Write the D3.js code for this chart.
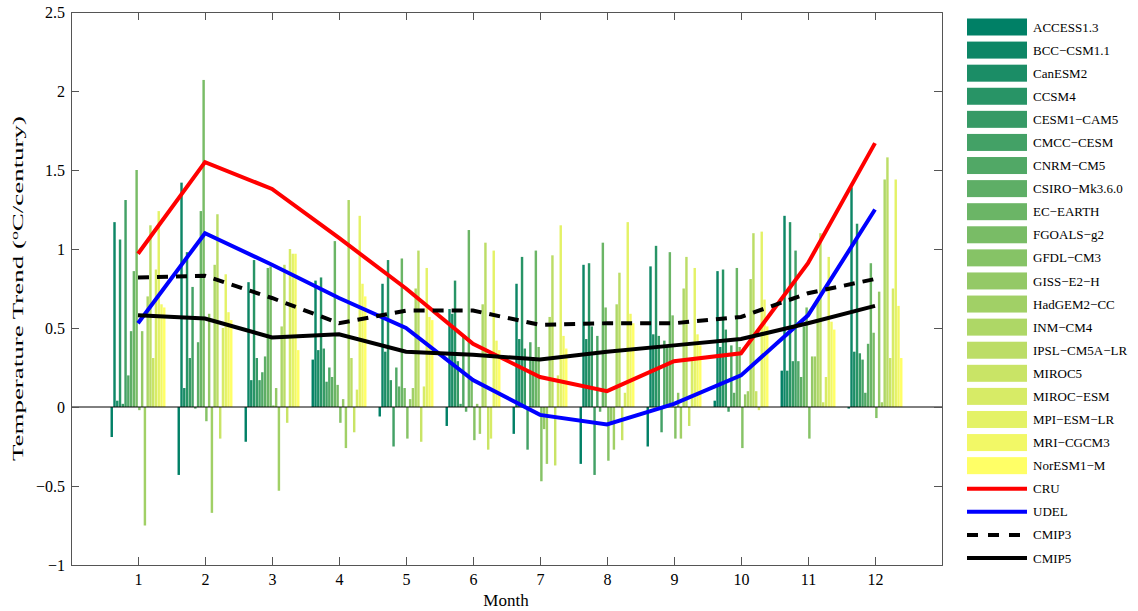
<!DOCTYPE html>
<html>
<head>
<meta charset="utf-8">
<script src="https://cdn.jsdelivr.net/npm/d3@7"></script>
<style>
  body { margin: 0; background: #fff; }
  svg text { font-family: "Liberation Serif", "DejaVu Serif", serif; fill: #000; }
</style>
</head>
<body>
<svg id="chart" width="1138" height="611"></svg>
<script>
// month numbers
const months = [1, 2, 3, 4, 5, 6, 7, 8, 9, 10, 11, 12];

// CMIP5 models (legend order)
const models = ['ACCESS1.3', 'BCC\u2212CSM1.1', 'CanESM2', 'CCSM4', 'CESM1\u2212CAM5', 'CMCC\u2212CESM',
  'CNRM\u2212CM5', 'CSIRO\u2212Mk3.6.0', 'EC\u2212EARTH', 'FGOALS\u2212g2', 'GFDL\u2212CM3', 'GISS\u2212E2\u2212H',
  'HadGEM2\u2212CC', 'INM\u2212CM4', 'IPSL\u2212CM5A\u2212LR', 'MIROC5', 'MIROC\u2212ESM', 'MPI\u2212ESM\u2212LR',
  'MRI\u2212CGCM3', 'NorESM1\u2212M'];

// trend per month, one row per month, 20 values in model order
const m01 = [-0.19, 1.17, 0.04, 1.06, 0.02, 1.31, 0.20, 0.48, 0.86, 1.50, -0.02, 0.48, -0.75, 0.70, 1.15, 0.31, 0.87, 1.24, 0.65, 0.63];
const m02 = [-0.43, 1.42, 0.12, 0.98, 0.31, 0.76, -0.01, 0.41, 1.24, 2.07, -0.09, 0.59, -0.67, 0.90, 1.22, -0.20, 0.50, 0.84, 0.60, 0.55];
const m03 = [-0.22, 0.79, 0.17, 0.93, 0.31, 0.17, 0.22, 0.32, 0.88, 0.89, 0.01, 0.12, -0.53, 0.51, 0.90, -0.10, 1.00, 0.97, 0.97, 0.36];
const m04 = [0.30, 0.80, 0.36, 0.82, 0.37, 0.16, 0.25, 0.19, 1.05, 0.14, -0.10, 0.05, -0.26, 1.31, 0.31, -0.16, 0.11, 1.21, 0.78, 0.70];
const m05 = [-0.06, 0.78, 0.35, 0.93, 0.17, -0.25, 0.25, 0.13, 0.94, 0.12, -0.20, 0.05, 0.12, 0.75, 0.99, -0.22, 0.13, 0.88, 0.57, 0.55];
const m06 = [-0.12, 0.62, 0.59, 0.80, 0.29, 0.02, 0.45, -0.03, 1.12, 0.17, -0.21, 0.02, -0.17, 0.65, 1.04, -0.27, -0.20, 0.99, 0.42, 0.36];
const m07 = [-0.17, 0.78, 0.43, 0.95, 0.37, -0.27, 0.41, 0.30, 0.99, 0.38, -0.47, -0.14, -0.36, 0.57, 0.96, -0.37, 0.20, 1.15, 0.45, 0.37];
const m08 = [-0.36, 0.90, 0.43, 0.91, 0.51, -0.43, 0.45, -0.03, 1.04, 0.63, -0.34, -0.10, -0.27, 0.65, 0.85, -0.21, 0.09, 1.17, 0.59, 0.53];
const m09 = [-0.25, 0.89, 0.46, 1.02, 0.45, -0.16, 0.42, 0.38, 0.98, 0.58, -0.20, 0.09, -0.20, 0.75, 0.95, -0.12, 0.30, 0.88, 0.46, 0.39];
const m10 = [0.04, 0.86, 0.38, 0.87, 0.49, -0.03, 0.39, 0.09, 0.88, 0.38, -0.26, 0.08, 0.10, 0.81, 1.10, 0.10, -0.02, 1.11, 0.68, 0.51];
const m11 = [0.23, 1.21, 0.23, 1.17, 0.29, 0.99, 0.29, 0.19, 0.51, 0.63, -0.20, 0.32, 0.32, 0.68, 1.10, 0.03, 0.19, 0.95, 0.54, 0.49];
const m12 = [-0.01, 1.39, 0.35, 1.16, 0.34, 0.30, 0.09, 0.40, 0.91, 0.47, -0.07, 0.73, 0.03, 1.44, 1.58, 0.31, 0.75, 1.44, 0.64, 0.31];
const modelTrends = [m01, m02, m03, m04, m05, m06, m07, m08, m09, m10, m11, m12];

// observations and ensemble means
const cru   = [0.97, 1.55, 1.38, 1.07, 0.75, 0.40, 0.19, 0.10, 0.29, 0.34, 0.91, 1.67];
const udel  = [0.53, 1.10, 0.90, 0.69, 0.50, 0.17, -0.05, -0.11, 0.02, 0.20, 0.58, 1.25];
const cmip3 = [0.82, 0.83, 0.69, 0.53, 0.61, 0.61, 0.52, 0.53, 0.53, 0.57, 0.72, 0.81];
const cmip5 = [0.58, 0.56, 0.44, 0.46, 0.35, 0.33, 0.30, 0.35, 0.39, 0.43, 0.53, 0.64];

const yTicks = [-1, -0.5, 0, 0.5, 1, 1.5, 2, 2.5];

const svg = d3.select('#chart');
const plotL = 71, plotR = 942, plotT = 12, plotB = 565;

const x = d3.scaleLinear().domain([0, 13]).range([plotL, plotR]);
const y = d3.scaleLinear().domain([-1, 2.5]).range([plotB, plotT]);

// position of each model bar inside a month group
const band = d3.scaleBand().domain(d3.range(models.length)).range([-0.41, 0.41]).paddingInner(0.12);

// MATLAB "summer" colormap
const color = i => {
  const t = i / (models.length - 1);
  return d3.rgb(255 * t, 255 * (0.5 + 0.5 * t), 255 * 0.4).toString();
};

const bars = [];
modelTrends.forEach((row, mi) => {
  row.forEach((v, k) => bars.push({ month: months[mi], k: k, v: v }));
});

const plot = svg.append('g');

plot.selectAll('rect.bar')
  .data(bars)
  .enter()
  .append('rect')
  .attr('class', 'bar')
  .attr('x', d => x(d.month + band(d.k)))
  .attr('width', x(band.bandwidth()) - x(0))
  .attr('y', d => y(Math.max(0, d.v)))
  .attr('height', d => Math.abs(y(d.v) - y(0)))
  .attr('fill', d => color(d.k));

// zero line
plot.append('line')
  .attr('x1', plotL).attr('x2', plotR)
  .attr('y1', y(0)).attr('y2', y(0))
  .attr('stroke', '#000').attr('stroke-width', 1);

const lineGen = d3.line().x((d, i) => x(months[i])).y(d => y(d));

const series = [
  { name: 'CRU', values: cru, color: '#ff0000', dash: null },
  { name: 'UDEL', values: udel, color: '#0000ff', dash: null },
  { name: 'CMIP3', values: cmip3, color: '#000', dash: '11,8' },
  { name: 'CMIP5', values: cmip5, color: '#000', dash: null }
];

series.forEach(s => {
  plot.append('path')
    .attr('d', lineGen(s.values))
    .attr('fill', 'none')
    .attr('stroke', s.color)
    .attr('stroke-width', 4)
    .attr('stroke-dasharray', s.dash);
});

// axes (inward ticks, boxed)
const fmt = d => d < 0 ? '\u2212' + Math.abs(d) : String(d);
const tickLen = 8;

const xAxis = svg.append('g')
  .attr('transform', `translate(0,${plotB})`)
  .call(d3.axisBottom(x).tickValues(months).tickSize(-tickLen).tickPadding(9).tickFormat(d3.format('d')));
const xTop = svg.append('g')
  .attr('transform', `translate(0,${plotT})`)
  .call(d3.axisTop(x).tickValues(months).tickSize(-tickLen).tickFormat(''));
const yAxis = svg.append('g')
  .attr('transform', `translate(${plotL},0)`)
  .call(d3.axisLeft(y).tickValues(yTicks).tickSize(-tickLen).tickPadding(6).tickFormat(fmt));
const yRight = svg.append('g')
  .attr('transform', `translate(${plotR},0)`)
  .call(d3.axisRight(y).tickValues(yTicks).tickSize(-tickLen).tickFormat(''));

[xAxis, xTop, yAxis, yRight].forEach(a => {
  a.select('.domain').attr('stroke', '#555');
  a.selectAll('.tick line').attr('stroke', '#555');
  a.selectAll('.tick text')
    .attr('font-family', '"Liberation Serif", serif')
    .attr('font-size', 16)
    .attr('fill', '#000');
});

svg.append('text')
  .attr('x', 506)
  .attr('y', 606)
  .attr('text-anchor', 'middle')
  .attr('font-size', 17)
  .text('Month');

const yLabel = svg.append('text')
  .attr('transform', `translate(23,${(plotT + plotB) / 2}) rotate(-90)`)
  .attr('text-anchor', 'middle')
  .attr('font-size', 15)
  .attr('textLength', 345)
  .attr('lengthAdjust', 'spacingAndGlyphs');
yLabel.append('tspan').text('Temperature Trend (');
yLabel.append('tspan').attr('baseline-shift', 'super').attr('font-size', 10).text('o');
yLabel.append('tspan').text('C/century)');

// legend
const legItems = models.map((m, i) => ({ name: m, type: 'patch', color: color(i) }))
  .concat(series.map(s => ({ name: s.name, type: 'line', color: s.color, dash: s.dash })));

const legY = d3.scalePoint().domain(d3.range(legItems.length)).range([27, 558]);
const leg = svg.append('g');
const item = leg.selectAll('g.item')
  .data(legItems)
  .enter()
  .append('g')
  .attr('class', 'item')
  .attr('transform', (d, i) => `translate(967,${legY(i)})`);

item.filter(d => d.type === 'patch')
  .append('rect')
  .attr('x', 0).attr('y', -8.5)
  .attr('width', 60).attr('height', 17)
  .attr('fill', d => d.color);

item.filter(d => d.type === 'line')
  .append('line')
  .attr('x1', 0).attr('x2', 60)
  .attr('stroke', d => d.color)
  .attr('stroke-width', 4)
  .attr('stroke-dasharray', d => d.dash ? '11,10' : null);

item.append('text')
  .attr('x', 66)
  .attr('dy', '0.35em')
  .attr('font-size', 13)
  .text(d => d.name);
</script>
</body>
</html>
